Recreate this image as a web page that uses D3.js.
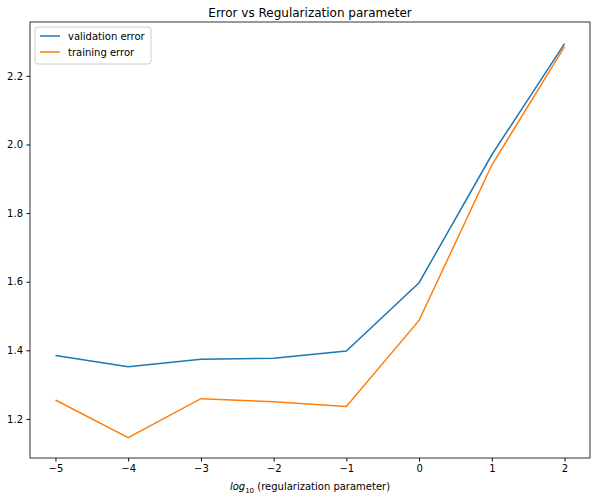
<!DOCTYPE html>
<html><head><meta charset="utf-8">
<script src="https://cdn.jsdelivr.net/npm/d3@7"></script>
<style>body{margin:0;background:#fff;font-family:"DejaVu Sans",sans-serif}</style>
</head><body><div id="chart"></div>
<script>
const lambdas = [-5, -4, -3, -2, -1, 0, 1, 2];
const validationError = [1.385, 1.352, 1.374, 1.377, 1.398, 1.597, 1.970, 2.294];
const trainingError = [1.255, 1.145, 1.259, 1.250, 1.236, 1.487, 1.940, 2.285];
const yTicks = [1.2, 1.4, 1.6, 1.8, 2.0, 2.2];

let w = 598, h = 500;
let m = {l: 30, r: 8, t: 22, b: 42};
let svg = d3.select('#chart').append('svg').attr('width', w).attr('height', h);
let x = d3.scaleLinear().domain([-5.35, 2.35]).range([m.l, w - m.r]);
let y = d3.scaleLinear().domain([1.086, 2.357]).range([h - m.b, m.t]);

let xAxis = d3.axisBottom(x).tickValues(lambdas).tickSize(3.5).tickPadding(3.5)
    .tickFormat(d => d < 0 ? '\u2212' + Math.abs(d) : d);
let yAxis = d3.axisLeft(y).tickValues(yTicks).tickSize(3.5).tickPadding(3.5).tickFormat(d3.format('.1f'));
svg.append('g').attr('transform', 'translate(0,' + (h - m.b) + ')').call(xAxis);
svg.append('g').attr('transform', 'translate(' + m.l + ',0)').call(yAxis);
svg.selectAll('.tick text').attr('font-size', 10).attr('fill', '#000').attr('font-family', 'DejaVu Sans');
svg.selectAll('.domain').remove();
svg.append('rect').attr('x', m.l).attr('y', m.t).attr('width', w - m.l - m.r).attr('height', h - m.t - m.b)
    .attr('fill', 'none').attr('stroke', '#000').attr('stroke-width', 0.8);

let line = d3.line().x((d, i) => x(lambdas[i])).y(d => y(d));
svg.append('path').datum(validationError).attr('d', line).attr('fill', 'none').attr('stroke', '#1f77b4').attr('stroke-width', 1.5);
svg.append('path').datum(trainingError).attr('d', line).attr('fill', 'none').attr('stroke', '#ff7f0e').attr('stroke-width', 1.5);

svg.append('text').attr('x', (m.l + w - m.r) / 2).attr('y', 17).attr('text-anchor', 'middle')
    .attr('font-size', 12).text('Error vs Regularization parameter');
let xl = svg.append('text').attr('x', (m.l + w - m.r) / 2).attr('y', h - 10).attr('text-anchor', 'middle').attr('font-size', 10);
xl.append('tspan').attr('font-style', 'italic').text('log');
xl.append('tspan').attr('font-size', 7).attr('dy', 3).text('10');
xl.append('tspan').attr('dy', -3).text(' (regularization parameter)');

let lg = svg.append('g').attr('transform', 'translate(' + (m.l + 5) + ',' + (m.t + 5) + ')');
lg.append('rect').attr('width', 116).attr('height', 37).attr('rx', 3).attr('fill', '#fff').attr('stroke', '#ccc');
[['validation error', '#1f77b4'], ['training error', '#ff7f0e']].forEach((s, i) => {
    lg.append('line').attr('x1', 5).attr('x2', 25).attr('y1', 9 + i * 16).attr('y2', 9 + i * 16).attr('stroke', s[1]).attr('stroke-width', 1.5);
    lg.append('text').attr('x', 33).attr('y', 13 + i * 16).attr('font-size', 10).text(s[0]);
});
</script></body></html>
